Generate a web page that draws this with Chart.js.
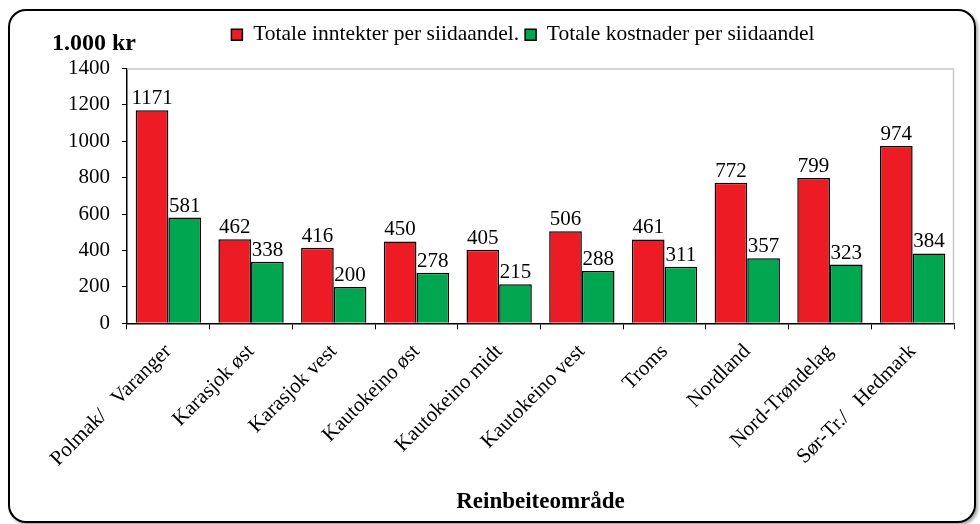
<!DOCTYPE html>
<html>
<head>
<meta charset="utf-8">
<script src="https://cdn.jsdelivr.net/npm/chart.js@4"></script>
<style>
  html, body { margin: 0; padding: 0; background: #fff; }
  #frame {
    position: absolute; left: 8px; top: 9px; width: 968px; height: 514px;
    border: 2px solid #000; border-radius: 18px; box-sizing: border-box;
    box-shadow: 2px 2px 3px rgba(0,0,0,0.35);
  }
  #wrap { position: absolute; left: 0; top: 0; width: 980px; height: 524px; }
</style>
</head>
<body>
<div id="frame"></div>
<div id="wrap"><canvas id="chart" width="980" height="524"></canvas></div>
<script>
// Data
const areas = ["Polmak/   Varanger", "Karasjok øst", "Karasjok vest", "Kautokeino øst",
  "Kautokeino midt", "Kautokeino vest", "Troms", "Nordland", "Nord-Trøndelag", "Sør-Tr./   Hedmark"];
const income = [1171, 462, 416, 450, 405, 506, 461, 772, 799, 974];
const costs = [581, 338, 200, 278, 215, 288, 311, 357, 323, 384];
const yTicks = [0, 200, 400, 600, 800, 1000, 1200, 1400];

const FONT = "'Liberation Serif', 'Times New Roman', serif";

// legend: a bit more room below it and shifted right, like the original
const legendTweak = {
  id: "legendTweak",
  afterInit(chart) {
    const lg = chart.legend;
    const fit = lg.fit;
    lg.fit = function () { fit.call(this); this.height += 13; };
  },
  afterLayout(chart) {
    const lg = chart.legend;
    if (lg) { lg.left += 18; lg.right += 18; }
  }
};

// value labels above bars + extra text
const labelPlugin = {
  id: "labels",
  afterDatasetsDraw(chart) {
    const ctx = chart.ctx;
    ctx.save();
    ctx.fillStyle = "#000";
    ctx.font = "21px " + FONT;
    ctx.textAlign = "center";
    ctx.textBaseline = "alphabetic";
    chart.data.datasets.forEach((ds, i) => {
      chart.getDatasetMeta(i).data.forEach((bar, j) => {
        ctx.fillText(ds.data[j], bar.x, bar.y - 6);
      });
    });
    // gray plot border top/right
    const a = chart.chartArea;
    ctx.strokeStyle = "#c8c8c8";
    ctx.lineWidth = 1.5;
    ctx.beginPath();
    ctx.moveTo(a.left, a.top + 0.5);
    ctx.lineTo(a.right - 0.5, a.top + 0.5);
    ctx.lineTo(a.right - 0.5, a.bottom);
    ctx.stroke();
    // unit label
    ctx.font = "bold 24px " + FONT;
    ctx.textAlign = "left";
    ctx.fillText("1.000 kr", 52, 50);
    ctx.restore();
  }
};

new Chart(document.getElementById("chart"), {
  type: "bar",
  data: {
    labels: areas,
    datasets: [
      { label: "Totale inntekter per siidaandel.", data: income,
        backgroundColor: "#ed1c24", borderColor: "#000", borderWidth: 1.5 },
      { label: "Totale kostnader per siidaandel", data: costs,
        backgroundColor: "#00a650", borderColor: "#000", borderWidth: 1.5 }
    ]
  },
  options: {
    responsive: false,
    animation: false,
    layout: { padding: { left: 56, right: 26, top: 18, bottom: 4 } },
    datasets: { bar: { categoryPercentage: 0.79, barPercentage: 1 } },
    plugins: {
      legend: {
        position: "top",
        labels: {
          font: { family: FONT, size: 21.5 }, color: "#000",
          boxWidth: 11, boxHeight: 11, padding: 6
        }
      },
      tooltip: { enabled: false }
    },
    scales: {
      x: {
        grid: { offset: true, drawOnChartArea: false, drawTicks: true, tickLength: 6, color: "#000" },
        border: { color: "#000", width: 1.5 },
        ticks: { font: { family: FONT, size: 21 }, color: "#000", minRotation: 45, maxRotation: 45, padding: 10 },
        title: { display: true, text: "Reinbeiteområde", font: { family: FONT, size: 23, weight: "bold" }, color: "#000", padding: { top: 7 } }
      },
      y: {
        min: 0, max: 1400,
        afterBuildTicks(axis) { axis.ticks = yTicks.map(v => ({ value: v })); },
        grid: { drawOnChartArea: false, drawTicks: true, tickLength: 5, color: "#000" },
        border: { color: "#000", width: 1.5 },
        ticks: { font: { family: FONT, size: 21 }, color: "#000", padding: 12, callback: v => String(v) }
      }
    }
  },
  plugins: [legendTweak, labelPlugin]
});
</script>
</body>
</html>
